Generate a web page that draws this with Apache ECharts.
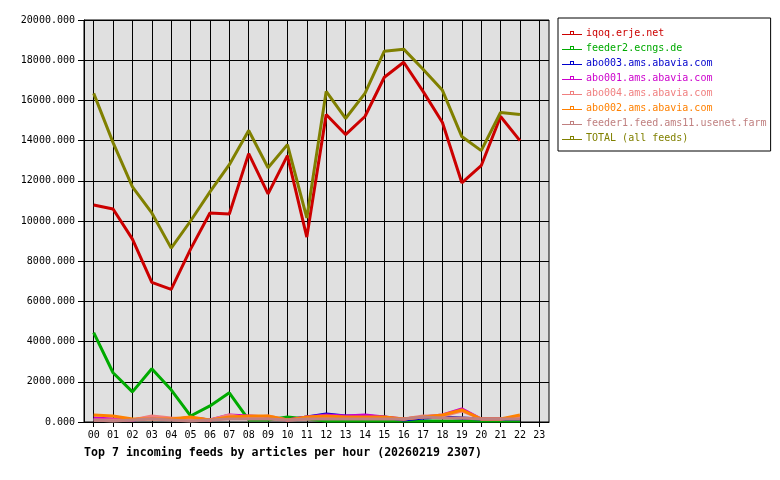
<!DOCTYPE html>
<html><head><meta charset="utf-8">
<script src="https://cdn.jsdelivr.net/npm/echarts@6/dist/echarts.min.js"></script>
<style>html,body{margin:0;padding:0;background:#fff}#c{width:780px;height:480px}</style>
</head><body><div id="c"></div>
<script>
const hours = ['00','01','02','03','04','05','06','07','08','09','10','11','12','13','14','15','16','17','18','19','20','21','22','23'];
const seriesNames = ['iqoq.erje.net','feeder2.ecngs.de','abo003.ams.abavia.com','abo001.ams.abavia.com','abo004.ams.abavia.com','abo002.ams.abavia.com','feeder1.feed.ams11.usenet.farm','TOTAL (all feeds)'];
const colors = ['#cc0000','#00aa00','#0000cc','#cc00cc','#f08080','#ff8000','#c08080','#808000'];
const iqoq    = [10800,10600,9100,6950,6600,8600,10400,10350,13350,11350,13250,9200,15300,14300,15200,17150,17900,16450,14900,11900,12750,15200,14000];
const feeder2 = [4450,2450,1500,2650,1600,300,800,1450,100,100,250,150,50,50,50,50,50,50,50,50,50,50,50];
const abo003  = [150,100,100,200,150,200,100,250,250,250,100,250,400,300,300,250,100,200,250,200,150,150,150];
const abo001  = [200,150,100,250,150,200,100,350,300,250,100,250,350,300,350,250,150,250,350,650,150,150,250];
const abo004  = [100,100,100,300,200,150,100,350,200,300,100,150,200,200,200,200,150,300,300,550,150,150,250];
const abo002  = [350,300,150,150,150,250,100,250,300,300,100,250,300,250,250,250,150,250,350,600,150,150,350];
const feeder1 = [100,50,100,150,100,50,100,150,150,150,100,150,150,150,150,150,150,250,200,200,150,150,150];
const total   = [16350,13900,11700,10400,8650,10000,11450,12800,14500,12650,13800,10150,16450,15100,16350,18450,18550,17550,16500,14200,13500,15400,15300];
const yTicks = [0,2000,4000,6000,8000,10000,12000,14000,16000,18000,20000];

const dataSets = [iqoq, feeder2, abo003, abo001, abo004, abo002, feeder1, total];
const mono = '"DejaVu Sans Mono", monospace';
const icon = 'path://M0,4L20,4L20,5L0,5Z M8,1L12,1L12,4L11,4L11,2L9,2L9,4L8,4Z';

const chart = echarts.init(document.getElementById('c'), null, {renderer:'canvas'});
chart.setOption({
  animation: false,
  backgroundColor: '#ffffff',
  grid: {left: 84, top: 20, right: 231, bottom: 58, show: true, backgroundColor: '#e0e0e0', borderColor: '#000', borderWidth: 1},
  title: {
    text: 'Top 7 incoming feeds by articles per hour (20260219 2307)',
    left: 84, top: 447, padding: 0,
    textStyle: {fontFamily: mono, fontWeight: 'bold', fontSize: 11.6, color: '#000'}
  },
  legend: {
    orient: 'vertical', left: 558, top: 18,
    padding: [9, 4, 7, 4], itemGap: 3, itemWidth: 20, itemHeight: 12,
    backgroundColor: '#fff', borderColor: '#000', borderWidth: 1,
    selectedMode: false,
    data: seriesNames.map((n, i) => ({name: n, icon: icon, itemStyle: {color: colors[i]}, textStyle: {color: colors[i]}})),
    textStyle: {fontFamily: mono, fontSize: 10, lineHeight: 12, height: 12, padding: [0,0,0,-1]}
  },
  xAxis: {
    type: 'category', data: hours, boundaryGap: true,
    axisLine: {show: true, lineStyle: {color: '#000'}},
    axisTick: {show: true, alignWithLabel: true, length: 5, lineStyle: {color: '#000'}},
    axisLabel: {fontFamily: mono, fontSize: 10, color: '#000', margin: 8, interval: 0},
    splitLine: {show: true, alignWithLabel: true, interval: 0, lineStyle: {color: '#000', width: 1}}
  },
  yAxis: {
    type: 'value', min: yTicks[0], max: yTicks[yTicks.length-1], interval: yTicks[1]-yTicks[0],
    axisLine: {show: true, lineStyle: {color: '#000'}},
    axisTick: {show: true, length: 6, lineStyle: {color: '#000'}},
    axisLabel: {fontFamily: mono, fontSize: 10, color: '#000', margin: 9, formatter: v => v.toFixed(3)},
    splitLine: {show: true, lineStyle: {color: '#000', width: 1}}
  },
  series: seriesNames.map((n, i) => ({
    name: n, type: 'line', data: dataSets[i], showSymbol: false, symbol: 'none',
    color: colors[i], lineStyle: {width: 3, color: colors[i]}, z: 2 + i
  }))
});
</script></body></html>
